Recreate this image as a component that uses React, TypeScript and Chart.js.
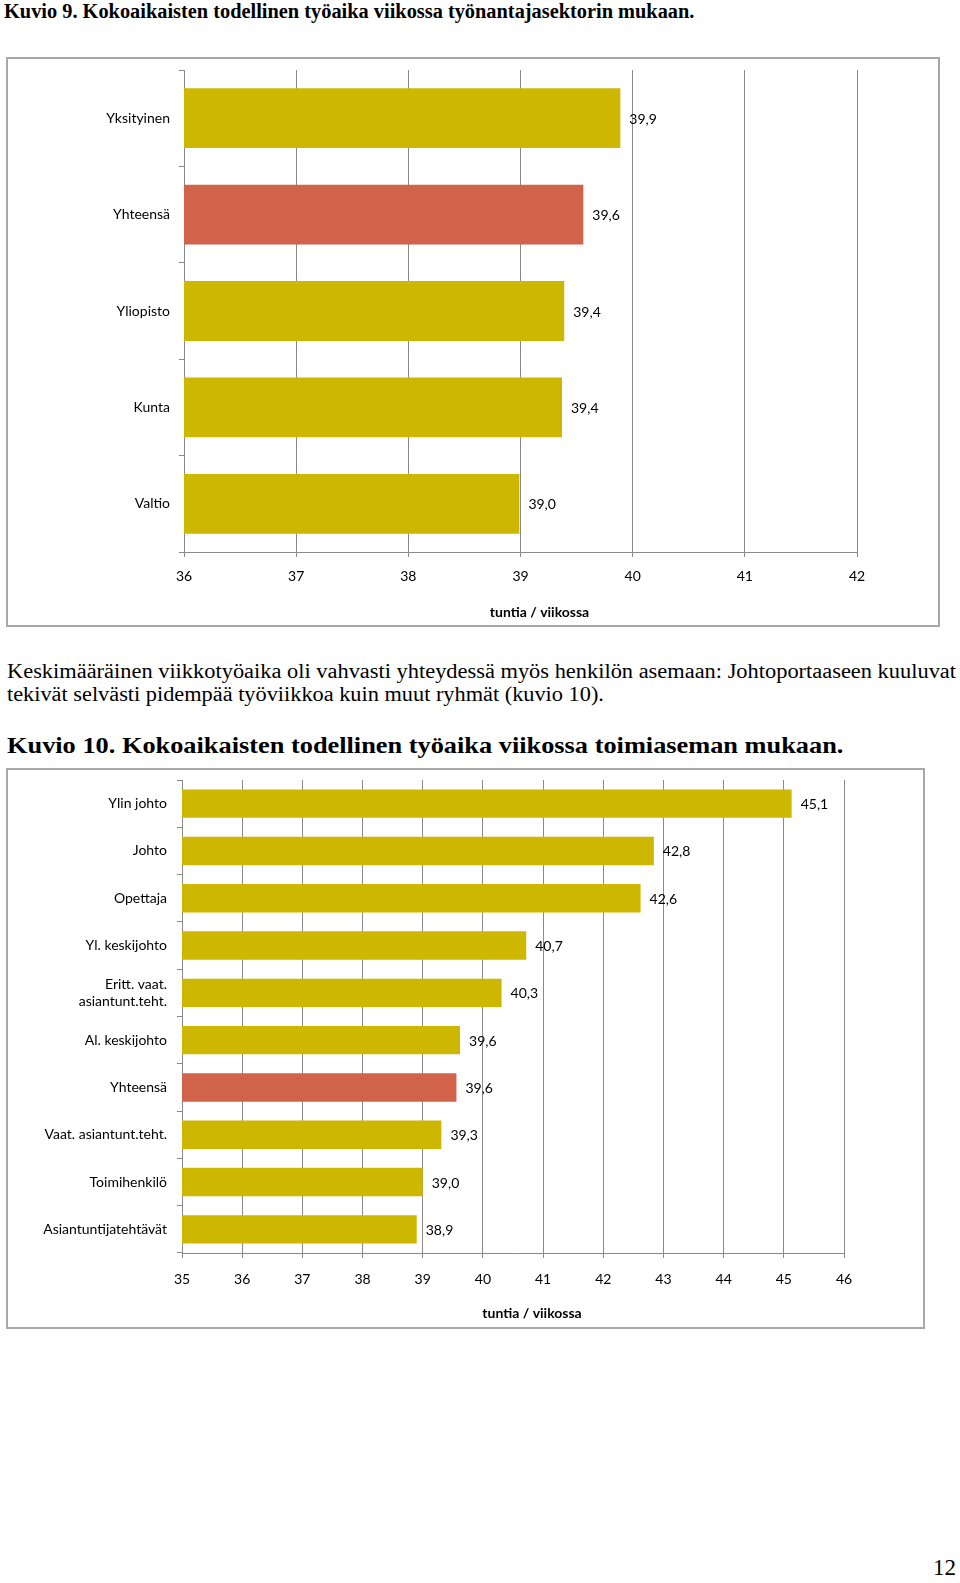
import React, { useEffect, useLayoutEffect, useRef, useState } from "react";
import { Chart, registerables } from "chart.js";

Chart.register(...registerables);

// ---------- data ----------
const sectorCategories = ["Yksityinen", "Yhteensä", "Yliopisto", "Kunta", "Valtio"];
const sectorValues = [39.89, 39.56, 39.39, 39.37, 38.99];
const sectorAxisMin = 36;
const sectorAxisMax = 42;

const positionCategories: (string | string[])[] = [
  "Ylin johto",
  "Johto",
  "Opettaja",
  "Yl. keskijohto",
  ["Eritt. vaat.", "asiantunt.teht."],
  "Al. keskijohto",
  "Yhteensä",
  "Vaat. asiantunt.teht.",
  "Toimihenkilö",
  "Asiantuntijatehtävät",
];
const positionValues = [45.13, 42.84, 42.62, 40.72, 40.31, 39.62, 39.56, 39.31, 39.0, 38.9];
const positionAxisMin = 35;
const positionAxisMax = 46;

const axisTitleText = "tuntia / viikossa";
const totalLabel = "Yhteensä";

const title1 = "Kuvio 9. Kokoaikaisten todellinen työaika viikossa työnantajasektorin mukaan.";
const paragraphLine1 =
  "Keskimääräinen viikkotyöaika oli vahvasti yhteydessä myös henkilön asemaan: Johtoportaaseen kuuluvat";
const paragraphLine2 = "tekivät selvästi pidempää työviikkoa kuin muut ryhmät (kuvio 10).";
const title2 = "Kuvio 10. Kokoaikaisten todellinen työaika viikossa toimiaseman mukaan.";
const pageNumber = "12";

// ---------- styles ----------
const BAR_YELLOW = "#CDB700";
const BAR_RED = "#D1634B";
const GRID = "#8a8a8a";
const FONT = "Lato, 'Open Sans', sans-serif";
const FONT_SIZE = 14;

const fmt = (v: number) => v.toFixed(1).replace(".", ",");

function FitText(props: {
  text: string;
  left: number;
  top: number;
  width: number;
  size: number;
  bold?: boolean;
}) {
  const ref = useRef<HTMLSpanElement>(null);
  const [sx, setSx] = useState(1);
  useLayoutEffect(() => {
    const measure = () => {
      if (ref.current) {
        const w = ref.current.offsetWidth;
        if (w > 0) setSx(props.width / w);
      }
    };
    measure();
    (document as any).fonts?.ready?.then(measure);
  }, [props.text, props.width]);
  return (
    <span
      ref={ref}
      style={{
        position: "absolute",
        left: props.left,
        top: props.top,
        whiteSpace: "nowrap",
        fontFamily: "'Liberation Serif', 'Times New Roman', serif",
        fontSize: props.size,
        lineHeight: 1,
        fontWeight: props.bold ? 700 : 400,
        color: "#000",
        transform: `scaleX(${sx})`,
        transformOrigin: "0 0",
      }}
    >
      {props.text}
    </span>
  );
}

type BarChartProps = {
  categories: (string | string[])[];
  values: number[];
  min: number;
  max: number;
  width: number;
  height: number;
  plotLeft: number;
  plotRight: number;
  plotTop: number;
  plotBottom: number;
  tickPadX: number;
  tickPadY: number;
  barPct: number;
};

function HBarChart(p: BarChartProps) {
  const canvasRef = useRef<HTMLCanvasElement>(null);
  useEffect(() => {
    if (!canvasRef.current) return;
    const colors = p.categories.map((c) => (c === totalLabel ? BAR_RED : BAR_YELLOW));

    const valueLabels = {
      id: "valueLabels",
      afterDatasetsDraw(chart: any) {
        const ctx = chart.ctx;
        const meta = chart.getDatasetMeta(0);
        ctx.save();
        ctx.font = `${FONT_SIZE}px ${FONT}`;
        ctx.fillStyle = "#000";
        ctx.textBaseline = "middle";
        ctx.textAlign = "left";
        meta.data.forEach((bar: any, i: number) => {
          const v = chart.data.datasets[0].data[i] as number;
          ctx.fillText(fmt(v), bar.x + 9, bar.y + 1);
        });
        ctx.restore();
      },
    };

    const axisTitle = {
      id: "axisTitle",
      afterDraw(chart: any) {
        const ctx = chart.ctx;
        const a = chart.chartArea;
        ctx.save();
        ctx.font = `bold ${FONT_SIZE}px ${FONT}`;
        ctx.fillStyle = "#000";
        ctx.textBaseline = "middle";
        ctx.textAlign = "center";
        ctx.fillText(axisTitleText, (a.left + a.right) / 2 + 19, a.bottom + 60);
        ctx.restore();
      },
    };

    const chart = new Chart(canvasRef.current, {
      type: "bar",
      data: {
        labels: p.categories as any,
        datasets: [
          {
            data: p.values,
            backgroundColor: colors,
            borderWidth: 0,
            categoryPercentage: 1,
            barPercentage: p.barPct,
          },
        ],
      },
      options: {
        indexAxis: "y",
        responsive: false,
        animation: false,
        devicePixelRatio: 1,
        layout: {
          padding: {
            left: 0,
            top: p.plotTop,
            right: p.width - p.plotRight,
            bottom: 0,
          },
        },
        plugins: {
          legend: { display: false },
          tooltip: { enabled: false },
          title: { display: false },
        },
        scales: {
          x: {
            type: "linear",
            min: p.min,
            max: p.max,
            ticks: {
              stepSize: 1,
              padding: p.tickPadX,
              color: "#000",
              font: { family: FONT, size: FONT_SIZE },
            },
            grid: { color: GRID, lineWidth: 1, drawTicks: true, tickLength: 5 },
            border: { display: true, color: GRID, width: 1 },
            afterFit: (s: any) => {
              s.height = p.height - p.plotBottom;
              s.paddingLeft = 0;
              s.paddingRight = 0;
            },
          },
          y: {
            type: "category",
            offset: true,
            ticks: {
              padding: p.tickPadY,
              color: "#000",
              autoSkip: false,
              font: { family: FONT, size: FONT_SIZE, lineHeight: 1.2 },
            },
            grid: {
              offset: true,
              drawOnChartArea: false,
              drawTicks: true,
              tickLength: 5,
              color: GRID,
            },
            border: { display: true, color: GRID, width: 1 },
            afterFit: (s: any) => {
              s.width = p.plotLeft;
              s.paddingTop = 0;
              s.paddingBottom = 0;
            },
          },
        },
      } as any,
      plugins: [valueLabels, axisTitle],
    });

    const fonts = (document as any).fonts;
    if (fonts && fonts.load) {
      Promise.all([
        fonts.load(`${FONT_SIZE}px Lato`),
        fonts.load(`bold ${FONT_SIZE}px Lato`),
      ])
        .then(() => chart.update())
        .catch(() => {});
    }
    return () => chart.destroy();
  }, []);

  return (
    <canvas
      ref={canvasRef}
      width={p.width}
      height={p.height}
      style={{ display: "block", width: p.width, height: p.height }}
    />
  );
}

export default function App() {
  return (
    <div
      style={{
        position: "absolute",
        left: 0,
        top: 0,
        width: 960,
        height: 1583,
        background: "#fff",
        overflow: "hidden",
      }}
    >
      <FitText text={title1} left={4} top={0.5} width={690} size={20} bold />

      <div
        style={{
          position: "absolute",
          left: 6,
          top: 57,
          width: 934,
          height: 570,
          border: "2px solid #a8a8a8",
          boxSizing: "border-box",
        }}
      >
        <HBarChart
          categories={sectorCategories}
          values={sectorValues}
          min={sectorAxisMin}
          max={sectorAxisMax}
          width={930}
          height={566}
          plotLeft={176}
          plotRight={849}
          plotTop={11}
          plotBottom={493}
          tickPadX={11}
          tickPadY={9}
          barPct={0.62}
        />
      </div>

      <FitText text={paragraphLine1} left={7} top={660.5} width={949} size={20} />
      <FitText text={paragraphLine2} left={7} top={684} width={597} size={20} />
      <FitText text={title2} left={7} top={734.2} width={836} size={23} bold />

      <div
        style={{
          position: "absolute",
          left: 6,
          top: 768,
          width: 919,
          height: 561,
          border: "2px solid #a8a8a8",
          boxSizing: "border-box",
        }}
      >
        <HBarChart
          categories={positionCategories}
          values={positionValues}
          min={positionAxisMin}
          max={positionAxisMax}
          width={915}
          height={557}
          plotLeft={174}
          plotRight={836}
          plotTop={10}
          plotBottom={483}
          tickPadX={13}
          tickPadY={10}
          barPct={0.6}
        />
      </div>

      <div
        style={{
          position: "absolute",
          right: 4,
          top: 1555.5,
          fontFamily: "'Liberation Serif', 'Times New Roman', serif",
          fontSize: 23,
          lineHeight: 1,
          color: "#000",
        }}
      >
        {pageNumber}
      </div>
    </div>
  );
}
